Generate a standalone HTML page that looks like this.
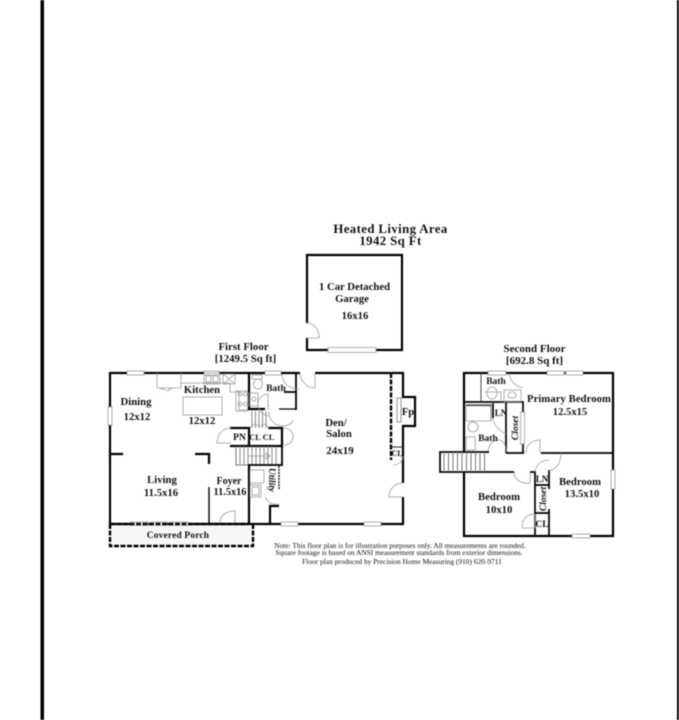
<!DOCTYPE html>
<html><head><meta charset="utf-8"><style>
html,body{margin:0;padding:0;background:#fff;width:679px;height:720px;overflow:hidden}
svg{display:block;filter:blur(.4px)}
text{font-family:"Liberation Serif",serif;font-weight:bold;fill:#111;text-anchor:middle}
.w{stroke:#000;stroke-width:2.2;fill:none}
.t{stroke:#222;stroke-width:1;fill:none}
.g{stroke:#999;stroke-width:.8;fill:none}
.win{fill:#fff;stroke:#999;stroke-width:.8}
.d{stroke:#000;stroke-width:2.4;fill:none;stroke-dasharray:5 1.5}
</style></head><body>
<svg width="679" height="720" viewBox="0 0 679 720" xmlns="http://www.w3.org/2000/svg">
<rect x="40.500" y="0" width="3.500" height="720" fill="#000"/>
<rect x="677" y="0" width="2" height="720" fill="#000"/>

<!-- Titles -->
<text x="390.500" y="233" font-size="12.800" letter-spacing=".4">Heated Living Area</text>
<text x="390.500" y="245" font-size="12.800" letter-spacing=".4">1942 Sq Ft</text>

<!-- Garage -->
<path class="w" d="M307 323V255H402V350H307V338"/>
<path class="g" d="M307 323C315 323 319 330 319 338H307"/>
<rect class="win" x="328" y="347.500" width="48" height="5"/>
<text x="354.500" y="290" font-size="10.700">1 Car Detached</text>
<text x="352" y="302" font-size="10.700">Garage</text>
<text x="355" y="319" font-size="10.700">16x16</text>

<!-- First floor labels -->
<text x="243.500" y="350" font-size="10.800">First Floor</text>
<text x="245.500" y="362" font-size="10.800">[1249.5 Sq ft]</text>

<!-- First floor outer walls -->
<path class="w" d="M110 524V373H300M315 373H403V397H415V426H403V483M403 497V524H110"/>
<path class="g" d="M300 373C300 381 307 388 315 388V373"/>
<path class="g" d="M403 483C395 483 389 489 389 497H403"/>
<!-- windows -->
<rect class="win" x="127" y="371" width="17" height="4"/>
<rect class="win" x="108" y="407" width="4" height="18"/>
<rect class="win" x="131" y="522" width="17" height="4"/>
<rect class="win" x="151" y="522" width="16" height="4"/>
<rect class="win" x="170" y="522" width="18" height="4"/>
<rect class="win" x="281" y="522" width="17" height="4"/>
<rect class="win" x="364" y="522" width="17" height="4"/>
<rect class="win" x="265" y="371" width="16" height="4"/>
<rect class="win" x="204" y="371" width="15" height="4"/>

<!-- Fireplace / dashed -->
<path class="d" d="M391 373V460"/>
<path class="t" d="M391 447H403"/>
<rect class="win" x="397" y="398" width="4" height="24" style="stroke:#777"/>
<path class="g" d="M393 465C399 465 403 461 403 456"/>
<text x="408" y="415" font-size="10.500">Fp</text>
<text x="397" y="456" font-size="8">CL</text>

<!-- Den -->
<text x="336" y="426" font-size="10.700">Den/</text>
<text x="339" y="437" font-size="10.700">Salon</text>
<text x="340" y="454" font-size="11">24x19</text>

<!-- Kitchen -->
<path class="g" d="M157 373V388H181V373"/>
<path class="g" d="M159 388L166 390M172 388L167 391M180 383H230V392H239V410H249"/>
<rect class="g" x="204" y="373" width="16" height="11"/>
<rect class="g" x="206" y="376" width="5" height="6"/>
<rect class="g" x="213" y="376" width="5" height="6"/>
<path class="g" d="M223 374H235V384H223ZM223 374L235 384M235 374L223 384"/>
<rect class="g" x="236" y="391" width="12" height="20"/>
<circle class="g" cx="240" cy="394" r="1.800"/><circle class="g" cx="245" cy="394" r="1.800"/>
<circle class="g" cx="240" cy="404" r="1.800"/><circle class="g" cx="245" cy="404" r="1.800"/>
<rect class="win" x="183" y="397" width="39" height="18"/>
<text x="202" y="393" font-size="10.700">Kitchen</text>
<text x="136" y="405" font-size="10.700">Dining</text>
<text x="137" y="420" font-size="10.700">12x12</text>
<text x="202" y="424" font-size="10.700">12x12</text>
<text x="162" y="483" font-size="10.700">Living</text>
<text x="161" y="496" font-size="10.700">11.5x16</text>
<text x="229" y="484" font-size="10">Foyer</text>
<text x="230" y="495" font-size="10.300">11.5x16</text>

<!-- Interior stubs -->
<path class="w" d="M110 454H123M195 454H209V464"/>
<path class="w" style="stroke-width:1.400" d="M209 487V524"/>

<!-- Bath -->
<path class="w" d="M249 373V409H265"/>
<path class="w" d="M284 392H296M296 373V410" style="stroke-width:1.800"/>
<path class="w" d="M279 409H296" style="stroke-width:1.200"/>
<path class="g" d="M282 374C282 384 290 389 299 389"/>
<path class="g" d="M269 394C263 394 258 398 258 404C258 410 263 415 268 416M268 410V394"/>
<path class="g" d="M269 412C269 420 275 426 283 426C287 426 292 424 293 420"/>
<rect class="g" x="252" y="375" width="10" height="4"/>
<ellipse class="g" cx="258" cy="384" rx="4.500" ry="5"/>
<rect class="g" x="249" y="393" width="9" height="13"/>
<circle class="g" cx="254" cy="399" r="2"/>
<text x="276" y="391" font-size="9.500">Bath</text>
<path class="t" d="M252 411V428M255.500 411V428M259 411V428M262.500 411V428M266 411V428" style="stroke:#888"/>

<!-- PN / CL -->
<path class="w" d="M230 428H249V446M230 446H282V428H268"/>
<path class="w" style="stroke-width:1.800" d="M282 446V466"/>
<path class="g" d="M231 428C222 428 217 435 217 443H231"/>
<path class="g" d="M284 428C290 428 294 433 293 438C292 443 288 445 284 445"/>
<path class="g" d="M250 428C252 424 256 423 258 426M260 426C263 423 267 424 269 428"/>
<text x="239.500" y="440" font-size="9.500">PN</text>
<text x="255" y="440" font-size="8.500">CL</text>
<text x="268.500" y="440" font-size="8.500">CL</text>

<!-- Stairs -->
<path class="t" d="M236 446V465H248" style="stroke:#777"/>
<path class="t" style="stroke:#888" d="M240 446V465M244 446V465M248 446V465M252 446V465M256 446V465M260 446V465M264 446V465M268 446V465M272 446V465M276 446V465"/>
<path class="g" d="M248 456H270M265 453L270 456L265 459"/>

<!-- Utility -->
<path class="w" d="M248 465H282" style="stroke-width:1.800"/>
<path class="w" d="M249 465V524"/>
<path class="t" d="M279 466V490" style="stroke-dasharray:2 1;stroke-width:1.500"/>
<path class="w" d="M270 524V506H279"/>
<rect class="g" x="250" y="470" width="14" height="13"/>
<rect class="g" x="250" y="485" width="11" height="12"/>
<rect class="g" x="252" y="487" width="7" height="8"/>
<path class="g" d="M265 497C268 503 272 505 279 504"/>
<text transform="translate(269,480) rotate(90)" font-size="9.500" font-style="italic">Utility</text>

<!-- Foyer door -->
<path class="g" d="M220 523C220 514 228 511 235 511V523"/>

<!-- Porch -->
<rect x="111" y="526" width="141" height="19" fill="#f7f7f7"/>
<path class="d" d="M110 524V546H253V524M110 524H249"/>
<text x="178" y="538" font-size="9.400" letter-spacing=".2">Covered Porch</text>

<!-- Second floor labels -->
<text x="534.500" y="352" font-size="11">Second Floor</text>
<text x="534.500" y="364" font-size="11">[692.8 Sq ft]</text>

<!-- Second floor walls -->
<path class="w" d="M464 452V373H613V536H464V472"/>
<path class="w" style="stroke-width:1.700" d="M464 402H523V453M506 402V453M506 453H524M541 453H613M530 472H535V536M549 470V489M549 509V536M535 485H549M535 513H549"/>
<path class="w" style="stroke-width:1.700" d="M493 403V418"/>
<path class="t" d="M466 405H491V420"/>
<rect class="win" x="488" y="371" width="18" height="4"/>
<rect class="win" x="547" y="371" width="17" height="4"/>
<rect class="win" x="566" y="371" width="17" height="4"/>
<rect class="win" x="611" y="470" width="4" height="19"/>
<rect class="win" x="572" y="534" width="18" height="4"/>
<rect class="win" x="520.500" y="412" width="4" height="32"/>
<path class="t" d="M481 373V402" style="stroke:#444"/>
<path class="g" d="M485 403H501V392H485"/>
<ellipse class="g" cx="492" cy="393" rx="5" ry="6"/>
<rect class="g" x="504" y="390" width="17" height="12"/>
<ellipse class="g" cx="512" cy="395" rx="4" ry="3"/>
<path class="g" d="M509 373C509 380 516 387 523 388"/>
<rect class="g" x="466" y="406" width="25" height="15"/>
<ellipse class="g" cx="473" cy="427" rx="5" ry="5"/>
<rect class="g" x="466" y="437" width="9" height="13"/>
<path class="g" d="M493 418C494 425 498 430 506 434"/>
<path class="g" d="M488 452C488 444 494 440 499 440C503 440 506 444 506 452"/>
<path class="g" d="M526 453C526 445 532 440 540 440V453"/>
<path class="g" d="M561 453C561 463 556 470 549 471"/>
<path class="g" d="M549 460C541 460 536 465 535 472"/>
<path class="g" d="M514 472C514 480 522 484 530 483V472"/>
<path class="g" d="M522 528C522 518 527 514 535 514V528H522"/>

<!-- Second floor stairs -->
<path class="w" style="stroke-width:1.700" d="M489 452H440V472H514"/>
<path class="t" style="stroke:#777" d="M444 452V472M448.500 452V472M453 452V472M457.500 452V472M462 452V472M466.500 452V472M471 452V472M475.500 452V472M480 452V472M484.500 452V472"/>

<text x="496" y="384" font-size="9.500">Bath</text>
<text x="488" y="441" font-size="9.500">Bath</text>
<text x="569" y="402" font-size="10.600" letter-spacing=".1">Primary Bedroom</text>
<text x="570" y="415" font-size="10.600">12.5x15</text>
<text x="501" y="416" font-size="9">LN</text>
<text x="542" y="482" font-size="9">LN</text>
<text transform="translate(518,428) rotate(-90)" font-size="9.500" font-style="italic">Closet</text>
<text transform="translate(546,499) rotate(-90)" font-size="9.500" font-style="italic">Closet</text>
<text x="499" y="500" font-size="10.700">Bedroom</text>
<text x="499" y="513" font-size="10.700">10x10</text>
<text x="580" y="485" font-size="10.700">Bedroom</text>
<text x="582" y="497" font-size="10.700">13.5x10</text>
<text x="542" y="527" font-size="9.500">CL</text>

<!-- Notes -->
<text x="400" y="548" font-size="7.400" style="font-weight:normal">Note: This floor plan is for illustration purposes only. All measurements are rounded.</text>
<text x="399" y="555" font-size="7.400" style="font-weight:normal">Square footage is based on ANSI measurement standards from exterior dimensions.</text>
<text x="402" y="564" font-size="7.400" style="font-weight:normal">Floor plan produced by Precision Home Measuring (910) 620-9711</text>
</svg>
</body></html>
